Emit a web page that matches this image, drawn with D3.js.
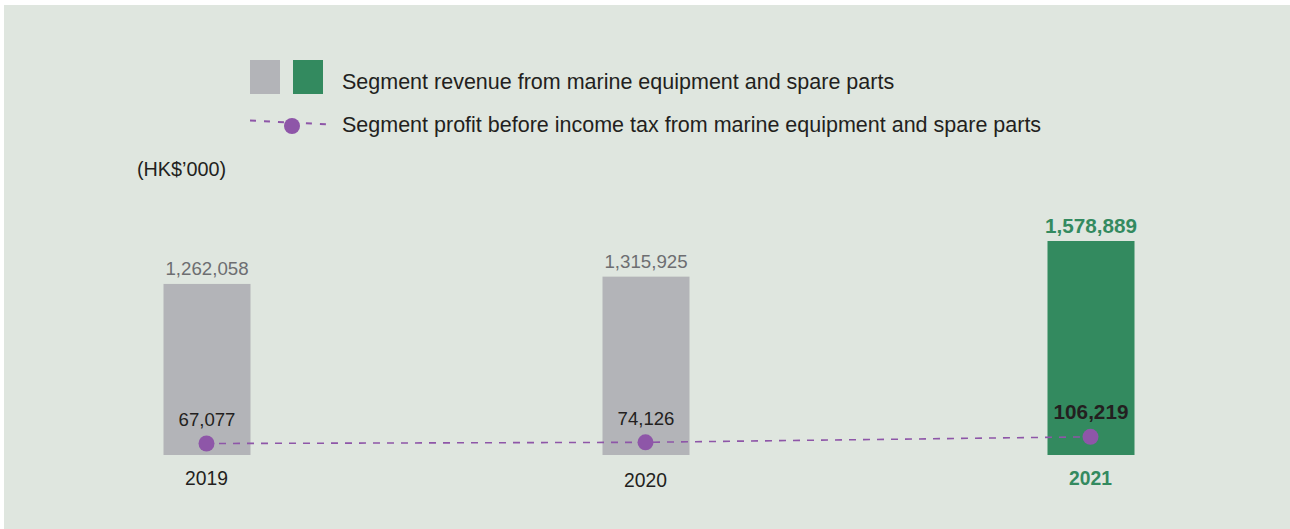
<!DOCTYPE html>
<html><head><meta charset="utf-8">
<script src="https://cdn.jsdelivr.net/npm/d3@7"></script>
<style>html,body{margin:0;padding:0;background:#fff;}svg{display:block;font-family:"Liberation Sans",Arial,Helvetica,sans-serif;}</style>
</head><body>
<svg id="c" width="1290" height="529"></svg>
<script>
const years = ["2019", "2020", "2021"];
const revenue = [1262058, 1315925, 1578889];
const profit = [67077, 74126, 106219];
const revenueLabels = ["1,262,058", "1,315,925", "1,578,889"];
const profitLabels = ["67,077", "74,126", "106,219"];
const legendLabels = ["Segment revenue from marine equipment and spare parts",
  "Segment profit before income tax from marine equipment and spare parts"];
const unitLabel = "(HK$\u2019000)";

const svg = d3.select("#c");
const grey = "#b3b4b8", green = "#338a5f", purple = "#8e56a8", dark = "#231f20";

svg.append("rect").attr("x", 4).attr("y", 5).attr("width", 1286).attr("height", 524).attr("fill", "#dfe6df");

const x = d3.scalePoint().domain(years).range([207, 1091]).padding(0);
const bw = 87;
const cx = d => x(d) + (d === "2020" ? -3 : 0);
const yR = d3.scaleLinear().domain([0, 1578889]).range([455, 241]);
const yP = d3.scaleLinear().domain([0, 106219]).range([455, 436.8]);

const isLast = i => i === years.length - 1;

// bars
svg.selectAll("rect.bar").data(years).join("rect").attr("class", "bar")
  .attr("x", d => cx(d) - bw / 2).attr("width", bw)
  .attr("y", (d, i) => yR(revenue[i])).attr("height", (d, i) => yR(0) - yR(revenue[i]))
  .attr("fill", (d, i) => isLast(i) ? green : grey);

// revenue labels
svg.selectAll("text.rl").data(years).join("text").attr("class", "rl")
  .attr("x", cx).attr("y", (d, i) => yR(revenue[i]) - 8.5)
  .attr("text-anchor", "middle").attr("font-size", (d, i) => isLast(i) ? 20.7 : 18.7)
  .attr("font-weight", (d, i) => isLast(i) ? "bold" : "normal")
  .attr("fill", (d, i) => isLast(i) ? green : "#6d6e71")
  .text((d, i) => revenueLabels[i]);

// profit line
const line = d3.line().x((d, i) => cx(years[i])).y(d => yP(d));
svg.append("path").datum(profit).attr("d", line).attr("fill", "none")
  .attr("stroke", purple).attr("stroke-width", 1.6).attr("stroke-dasharray", "7,7")
  .attr("stroke-dashoffset", -12);
svg.selectAll("circle.pt").data(profit).join("circle").attr("class", "pt")
  .attr("cx", (d, i) => cx(years[i]) - 0.5).attr("cy", d => yP(d)).attr("r", 8).attr("fill", purple);

// profit labels
svg.selectAll("text.pl").data(years).join("text").attr("class", "pl")
  .attr("x", cx).attr("y", (d, i) => yP(profit[i]) - 17.5)
  .attr("text-anchor", "middle").attr("font-size", (d, i) => isLast(i) ? 20.7 : 18.6)
  .attr("font-weight", (d, i) => isLast(i) ? "bold" : "normal")
  .attr("fill", dark)
  .text((d, i) => profitLabels[i]);

// year labels
svg.selectAll("text.yr").data(years).join("text").attr("class", "yr")
  .attr("x", d => cx(d) - 0.5).attr("y", (d, i) => i === 1 ? 487 : 485)
  .attr("text-anchor", "middle").attr("font-size", 19.3)
  .attr("font-weight", (d, i) => isLast(i) ? "bold" : "normal")
  .attr("fill", (d, i) => isLast(i) ? green : dark)
  .text(d => d);

// unit label
svg.append("text").attr("x", 137).attr("y", 176).attr("font-size", 19.8).attr("fill", dark).text(unitLabel);

// legend
svg.append("rect").attr("x", 250).attr("y", 60).attr("width", 30).attr("height", 34).attr("fill", grey);
svg.append("rect").attr("x", 293).attr("y", 60).attr("width", 30).attr("height", 34).attr("fill", green);
svg.append("line").attr("x1", 250).attr("x2", 330).attr("y1", 120.5).attr("y2", 124.5)
  .attr("stroke", purple).attr("stroke-width", 2).attr("stroke-dasharray", "6,8");
svg.append("circle").attr("cx", 292).attr("cy", 126).attr("r", 8).attr("fill", purple);
svg.selectAll("text.lg").data(legendLabels).join("text").attr("class", "lg")
  .attr("x", 342).attr("y", (d, i) => 88.5 + i * 43.5).attr("font-size", 21.5).attr("fill", dark)
  .text(d => d);
</script>
</body></html>
